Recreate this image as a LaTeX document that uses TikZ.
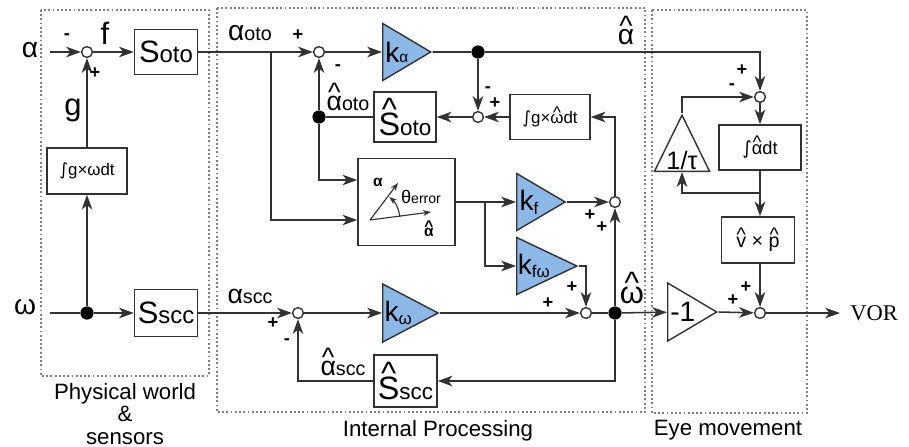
\documentclass[tikz,border=0pt]{standalone}
\usepackage{fontspec}
\setmainfont{Liberation Sans}
\newfontfamily\serifvor{Liberation Serif}
\newfontfamily\intfont{DejaVu Sans}
\usetikzlibrary{shapes.geometric,arrows.meta,calc}

\definecolor{gainblue}{RGB}{140,184,232}
\definecolor{linegray}{RGB}{50,50,50}
\newcommand{\fs}[1]{\fontsize{#1}{#1}\selectfont}
\newcommand{\hatted}[1]{\leavevmode\vbox{\offinterlineskip\halign{\hfil##\hfil\cr\textasciicircum\cr\noalign{\kern-0.22em}#1\cr}}}

\tikzset{
  sig/.style={draw=linegray, line width=1.1pt, -{Stealth[length=10.5pt,width=7.5pt,inset=3pt]}},
  wire/.style={draw=linegray, line width=1.1pt},
  vec/.style={draw=linegray, line width=0.8pt, -{Stealth[length=5.5pt,width=4pt,inset=1.5pt]}},
  sumnode/.style={circle, draw=linegray, fill=white, line width=1pt, minimum size=0.27cm, inner sep=0pt},
  dotnode/.style={circle, fill=black, minimum size=0.33cm, inner sep=0pt},
  block/.style={draw=linegray, line width=1pt, fill=white, inner sep=0pt, font=\fs{22}},
  gain/.style={isosceles triangle, isosceles triangle stretches, shape border rotate=0,
    draw=linegray, fill=gainblue, line width=1pt, inner sep=0pt, font=\fs{20}},
  sgn/.style={font=\bfseries\fs{13}, inner sep=0pt},
  midlabel/.style={font=\fs{20}, inner sep=0pt},
  grouplabel/.style={font=\fontsize{15.8}{15.8}\selectfont, inner sep=0pt},
  region/.style={draw=gray, line width=1pt, dash pattern=on 1.3pt off 1.7pt},
}

\begin{document}
\begin{tikzpicture}[x=0.025cm, y=-0.025cm]
  \useasboundingbox (0,0) rectangle (909,447);

  % Draw the regions
  \draw[region] (41,10) rectangle (209,376);
  \draw[region] (217,8) rectangle (645,412);
  \draw[region] (652,10) rectangle (807,413);
  \node[grouplabel, align=center] (lphys) at (125,414) {Physical world\\\&\\sensors};
  \node[grouplabel] (lint) at (438,431) {Internal Processing};
  \node[grouplabel] (leye) at (728,430) {Eye movement};

  % Physical world and sensors
  \node[midlabel] (lalpha) at (30,50) {α};
  \coordinate (alphain) at (50,52);
  \node[sumnode] (s1) at (87,52) {};
  \node[block, minimum width=1.575cm, minimum height=1.125cm] (soto) at (166,52) {S{\fs{17}oto}};
  \node[midlabel, font=\fs{22}] (lf) at (105,33) {f};
  \node[midlabel, font=\fs{22}] (lg) at (73,110) {g};
  \node[block, minimum width=2cm, minimum height=1.15cm, font=\fs{12}] (intg) at (87,171) {{\intfont ∫}g×ωdt};
  \node[dotnode] (dw) at (87,313) {};
  \node[midlabel] (lomega) at (25,307) {ω};
  \coordinate (omegain) at (50,313);
  \node[block, minimum width=1.575cm, minimum height=1.175cm] (sscc) at (166,313) {S{\fs{17}scc}};

  \draw[sig] (alphain) -- (s1);
  \draw[sig] (s1) -- (soto);
  \draw[sig] (intg) -- (s1);
  \draw[sig] (dw) -- (intg);
  \draw[wire] (omegain) -- (dw);
  \draw[sig] (dw) -- (sscc);

  % Internal processing, otolith path
  \node[midlabel] (laoto) at (250,33) {α{\fs{14}oto}};
  \coordinate (br1) at (271,52);
  \node[sumnode] (s2) at (319,52) {};
  \node[gain, anchor=west, minimum width=1.425cm, minimum height=1.2cm] (ka) at (382,52) {k{\fs{11}α}};
  \node[dotnode] (d1) at (478,52) {};
  \node[sumnode] (s3) at (478,117) {};
  \node[block, minimum width=2cm, minimum height=1.125cm, font=\fs{12}] (igw) at (550,117) {{\intfont ∫}g×\hatted{ω}dt};
  \node[block, minimum width=1.55cm, minimum height=1.25cm, font=\fs{23}] (sotoh) at (405,117) {\hatted{S}{\fs{16}oto}};
  \node[dotnode] (d2) at (319,117) {};
  \node[midlabel, font=\fs{19}] (lhoto) at (348,97) {\hatted{α}{\fs{14}oto}};
  \node[midlabel] (lah) at (626,30) {\hatted{α}};

  \draw[sig] (soto) -- (s2);
  \draw[sig] (s2) -- (ka);
  \draw[wire] (ka.apex) -- (d1);
  \draw[sig] (d1) -- (s3);
  \draw[sig] (igw) -- (s3);
  \draw[sig] (s3) -- (sotoh);
  \draw[wire] (sotoh) -- (d2);
  \draw[sig] (d2) -- (s2);

  % Internal processing, error block
  \node[block, minimum width=2.425cm, minimum height=2.175cm] (err) at (406.5,202) {};
  \coordinate (eo) at (370,220);
  \draw[vec] (eo) -- (398,183);
  \draw[vec] (eo) -- (431,212);
  \draw[vec] ($(eo)+(-6:30)$) arc[start angle=-6, end angle=-50, radius=30];
  \node[font=\bfseries\fs{11}] (ea) at (378,182) {α};
  \node[font=\fs{13}] (eth) at (421,197) {θ{\fs{10}error}};
  \node[font=\bfseries\fs{11}] (eah) at (429,229) {\hatted{α}};

  \draw[sig] (d2) |- ($(err.west)+(0,-22)$);
  \draw[sig] (br1) |- ($(err.west)+(0,18)$);

  % Internal processing, gains
  \coordinate (br2) at (485,202);
  \node[gain, anchor=west, minimum width=1.425cm, minimum height=1.175cm] (kf) at (516,202) {k{\fs{12}\raisebox{-3pt}{f}}};
  \node[gain, anchor=west, minimum width=1.425cm, minimum height=1.175cm] (kfw) at (516,266) {k{\fs{12}\raisebox{-2pt}{fω}}};
  \node[sumnode] (s4) at (615,202) {};
  \node[sumnode] (s5) at (586,313) {};
  \node[dotnode] (d3) at (615,313) {};
  \node[midlabel, font=\fs{22}] (lwh) at (632,288) {\hatted{ω}};

  \draw[sig] (err.east) -- (kf);
  \draw[sig] (br2) |- (kfw);
  \draw[sig] (kf.apex) -- (s4);
  \draw[sig] (kfw.apex) -| (s5);
  \draw[sig] (d3) -- (s4);
  \draw[sig] (s4) |- (igw);

  % Internal processing, canal path
  \node[midlabel, font=\fs{19}] (lascc) at (250,296) {α{\fs{14}scc}};
  \node[sumnode] (s6) at (298,313) {};
  \node[gain, anchor=west, minimum width=1.45cm, minimum height=1.2cm] (kw) at (382,313) {k{\fs{12}\raisebox{-2pt}{ω}}};
  \node[block, minimum width=1.575cm, minimum height=1.3cm, font=\fs{23}] (ssh) at (405.5,381) {\hatted{S}{\fs{16}scc}};
  \node[midlabel, font=\fs{19}] (lhscc) at (343,362) {\hatted{α}{\fs{14}scc}};

  \draw[sig] (sscc) -- (s6);
  \draw[sig] (s6) -- (kw);
  \draw[sig] (kw.apex) -- (s5);
  \draw[wire] (s5) -- (d3);
  \draw[sig] (d3) |- (ssh);
  \draw[sig] (ssh) -| (s6);

  % Eye movement
  \node[sumnode] (s7) at (760,97) {};
  \node[block, minimum width=2.05cm, minimum height=1.125cm, font=\fs{13}] (iad) at (760,147.5) {{\intfont ∫}\hatted{α}dt};
  \node[block, minimum width=1.825cm, minimum height=1.15cm, font=\fs{14}] (vxp) at (758,240) {\hatted{v} × \hatted{p}};
  \node[gain, fill=white, shape border rotate=90, anchor=south, minimum width=1.375cm, minimum height=1.225cm, font=\fs{18}] (tau) at (682,172) {1/τ};
  \coordinate (br3) at (760,193);
  \node[gain, fill=white, anchor=west, minimum width=1.45cm, minimum height=1.225cm] (neg) at (667,312) {-1};
  \node[sumnode] (s8) at (760,313) {};
  \coordinate (vorend) at (840,313);
  \node[font=\serifvor\fs{16}, anchor=west, inner sep=0pt] (vor) at (850,313) {VOR};

  \draw[sig] (d1) -| (s7);
  \draw[sig] (s7) -- (iad);
  \draw[sig] (iad.south) -- (iad.south |- vxp.north);
  \draw[sig] (br3) -| (tau.south);
  \draw[sig] (tau.apex) |- (s7);
  \draw[sig] (d3) -- (neg);
  \draw[sig] (neg.apex) -- (s8);
  \draw[sig] (vxp.south -| s8) -- (s8);
  \draw[sig] (s8) -- (vorend);

  % Signs at the sums
  \foreach \x/\y/\s [count=\i] in {67/37/-, 95/73/+, 298/35/+, 338/68/-, 488/90/-, 495/103/+,
      590/215/+, 602/227/+, 572/287/+, 548/303/+, 273/323/+, 287/342/-,
      742/70/+, 732/87/-, 733/300/+, 746/287/+}
    \node[sgn] (sg\i) at (\x,\y) {\s};
\end{tikzpicture}
\end{document}
